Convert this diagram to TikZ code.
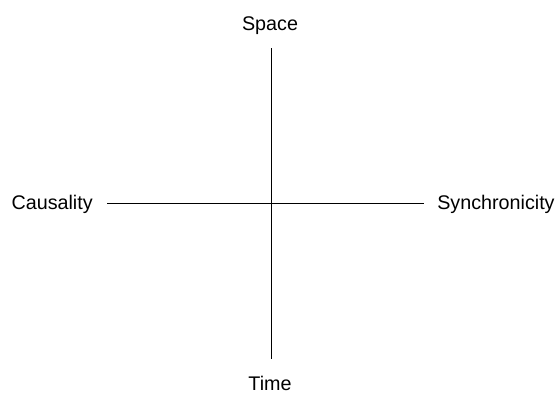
\documentclass[tikz,border=0pt]{standalone}
\usepackage{fontspec}
\setmainfont{Liberation Sans}
\usetikzlibrary{positioning}

\begin{document}
\begin{tikzpicture}[
  x=0.75pt, y=-0.75pt,
  lbl/.style={font=\fontsize{14.8}{17}\selectfont, inner sep=0pt},
  axis/.style={line width=0.75pt}
]
\useasboundingbox (0,0) rectangle (559,393);

\node[lbl, anchor=base] (space) at (270,30) {Space};
\node[lbl, anchor=base] (time) at (270,390.5) {Time};
\node[lbl, anchor=base east] (caus) at (93,209) {Causality};
\node[lbl, anchor=base west] (sync) at (437,209) {Synchronicity};

\draw[axis] ([xshift=10.5pt]caus.east) -- ([xshift=-9.75pt]sync.west);
\draw[axis] ([xshift=0.75pt, yshift=-10.5pt]space.south) -- ([xshift=0.75pt, yshift=12.4pt]time.north);

\end{tikzpicture}
\end{document}
